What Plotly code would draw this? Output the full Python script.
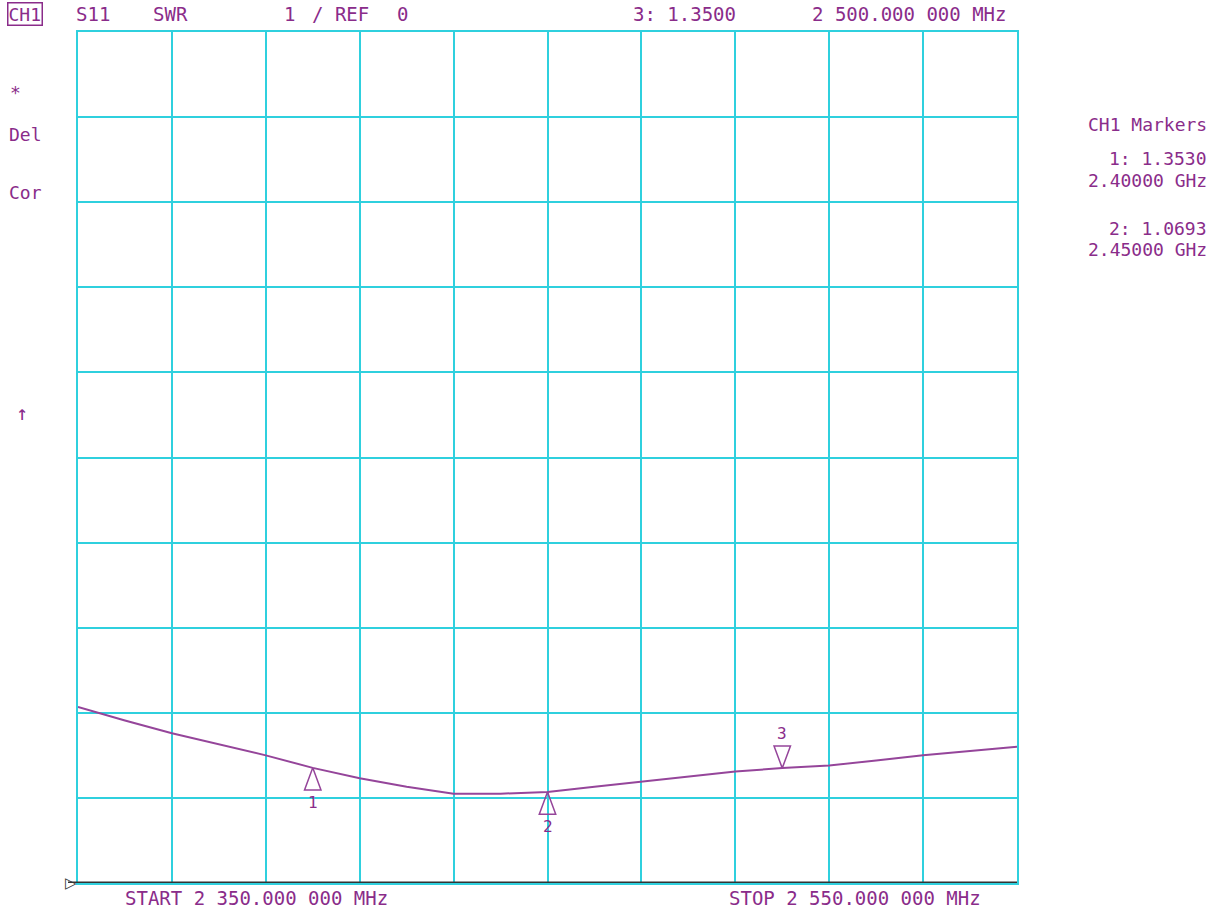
import plotly.graph_objects as go

# ---- data ----
freq_mhz = [2350, 2360, 2370, 2380, 2390, 2400, 2410, 2420, 2430, 2440, 2450,
            2460, 2470, 2480, 2490, 2500, 2510, 2520, 2530, 2540, 2550]
swr = [2.07, 1.91, 1.76, 1.63, 1.50, 1.353, 1.23, 1.13, 1.05, 1.05, 1.0693,
       1.13, 1.19, 1.25, 1.31, 1.35, 1.38, 1.44, 1.50, 1.55, 1.60]

marker_ids = ["1", "2", "3"]
marker_freq = [2400, 2450, 2500]
marker_swr = [1.3530, 1.0693, 1.3500]
marker_dir = ["up", "up", "down"]

header_items = ["S11", "SWR", "1", "/ REF", "0", "3: 1.3500", "2 500.000 000 MHz"]
left_items = ["*", "Del", "Cor", "↑"]
right_items = ["CH1 Markers", "1: 1.3530", "2.40000 GHz", "2: 1.0693", "2.45000 GHz"]
start_label = "START 2 350.000 000 MHz"
stop_label = "STOP 2 550.000 000 MHz"

# ---- style ----
W, H = 1216, 909
L, R, T, B = 78, 199, 32, 26
PW, PH = W - L - R, H - T - B
TXT = "#8a2c8a"
TRACE = "#95459a"
GRID = "#2fd0de"
FONT = "DejaVu Sans Mono"


def px(x):
    return (x - L) / PW


def py(y):
    return (H - B - y) / PH


fig = go.Figure()
fig.add_trace(go.Scatter(x=freq_mhz, y=swr, mode="lines",
                         line=dict(color=TRACE, width=2), hoverinfo="skip",
                         showlegend=False))

# marker triangles (tip on the trace)
dx = 1.75  # MHz half-width
dy = 0.26  # SWR units height
tx, ty = [], []
annotations = []
for mid, f, v, d in zip(marker_ids, marker_freq, marker_swr, marker_dir):
    s = -1 if d == "up" else 1
    tx += [f, f - dx, f + dx, f, None]
    ty += [v, v + s * dy, v + s * dy, v, None]
    annotations.append(dict(x=f, y=v + s * dy, xref="x", yref="y", text=mid,
                            showarrow=False,
                            yanchor="top" if d == "up" else "bottom",
                            yshift=-1 if d == "up" else 1,
                            font=dict(family=FONT, size=16, color=TXT)))
fig.add_trace(go.Scatter(x=tx, y=ty, mode="lines",
                         line=dict(color=TRACE, width=1.5), hoverinfo="skip",
                         showlegend=False))

f18 = dict(family=FONT, size=18, color=TXT)
f19 = dict(family=FONT, size=19, color=TXT)

# header
annotations.append(dict(x=px(7), y=py(14), xref="paper", yref="paper",
                        text="CH1", showarrow=False, xanchor="left",
                        yanchor="middle", font=f18, bordercolor=TXT,
                        borderwidth=1.5, borderpad=0))
header_x = [93, 170, 289, 340, 402, 684, 909]
for t, x in zip(header_items, header_x):
    annotations.append(dict(x=px(x), y=py(14), xref="paper", yref="paper",
                            text=t, showarrow=False, xanchor="center",
                            yanchor="middle", font=f19))

# left column
left_pos = [(8, 93), (7, 135), (7, 192), (14, 413)]
left_sizes = [18, 18, 18, 20]
for t, (x, y), s in zip(left_items, left_pos, left_sizes):
    annotations.append(dict(x=px(x), y=py(y), xref="paper", yref="paper",
                            text=t, showarrow=False, xanchor="left",
                            yanchor="middle",
                            font=dict(family=FONT, size=s, color=TXT)))

# right column
right_y = [125, 159, 181, 228, 249]
for t, y in zip(right_items, right_y):
    annotations.append(dict(x=px(1209), y=py(y), xref="paper", yref="paper",
                            text=t, showarrow=False, xanchor="right",
                            yanchor="middle", font=f18))

# bottom labels
annotations.append(dict(x=px(123), y=py(898), xref="paper", yref="paper",
                        text=start_label, showarrow=False, xanchor="left",
                        yanchor="middle", font=f19))
annotations.append(dict(x=px(727), y=py(898), xref="paper", yref="paper",
                        text=stop_label, showarrow=False, xanchor="left",
                        yanchor="middle", font=f19))
# reference position marker
annotations.append(dict(x=px(78), y=0, xref="paper", yref="y",
                        text="▷", showarrow=False, xanchor="right",
                        yanchor="middle", xshift=1,
                        font=dict(family="DejaVu Sans", size=15, color="#333333")))

fig.update_layout(
    width=W, height=H,
    margin=dict(l=L, r=R, t=T, b=B, pad=0),
    paper_bgcolor="white", plot_bgcolor="white",
    xaxis=dict(range=[2350, 2550], tick0=2350, dtick=20, showticklabels=False,
               ticks="", showgrid=True, gridcolor=GRID, gridwidth=2,
               zeroline=False, showline=True, linecolor=GRID, linewidth=2,
               mirror=True, fixedrange=True),
    yaxis=dict(range=[0, 10], tick0=0, dtick=1, showticklabels=False,
               ticks="", showgrid=True, gridcolor=GRID, gridwidth=2,
               zeroline=False, showline=True, linecolor=GRID, linewidth=2,
               mirror=True, fixedrange=True),
    annotations=annotations,
    shapes=[dict(type="line", xref="paper", yref="y", x0=px(68), x1=1,
                 y0=0, y1=0, line=dict(color="#333333", width=3),
                 layer="above")],
    showlegend=False,
)

fig.write_html("out.html", config={"displayModeBar": False},
               post_script="document.body.style.margin='0px';"
                           "document.body.style.overflow='hidden';")
